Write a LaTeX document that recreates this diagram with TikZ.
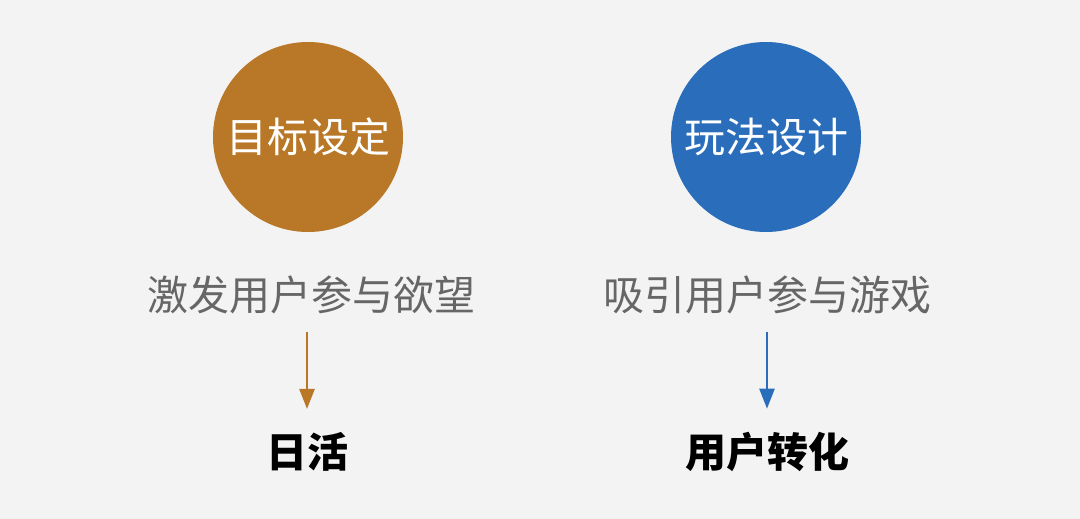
\documentclass[tikz,border=0pt]{standalone}
\usepackage{fontspec}
\setmainfont{Noto Sans CJK SC}
\usetikzlibrary{positioning,arrows.meta}
\definecolor{bgray}{HTML}{F3F3F3}
\definecolor{cbrown}{HTML}{B87828}
\definecolor{cblue}{HTML}{2A6EBB}
\definecolor{tgray}{HTML}{666666}
\tikzset{
  ring/.style={circle, minimum size=190pt, inner sep=0pt, text=white, font=\fontsize{41}{44}\selectfont},
  goal/.style={text=tgray, font=\fontsize{41}{44}\selectfont},
  result/.style={text=black, font=\fontsize{41}{44}\selectfont\bfseries},
  flow/.style={line width=2.5pt, -{Triangle[width=15pt,length=20pt]}},
}
\begin{document}
\begin{tikzpicture}[x=1pt,y=-1pt]
    % Fondo
    \fill[bgray] (0,0) rectangle (1080,519);
    \useasboundingbox (0,0) rectangle (1080,519);

    % Circulos
    \node[ring, fill=cbrown] (target) at (308,137) {目标设定};
    \node[ring, fill=cblue] (play) at (766,137) {玩法设计};

    % Textos
    \node[goal] (wish) at (311,295) {激发用户参与欲望};
    \node[goal] (join) at (767,295) {吸引用户参与游戏};
    \node[result] (daily) at (307,452) {日活};
    \node[result] (convert) at (767,452) {用户转化};

    % Flechas
    \coordinate (wishend) at (daily |- wish.south);
    \coordinate (joinend) at (convert |- join.south);
    \draw[cbrown, flow] (wishend) ++(0,14) -- ([yshift=20pt]daily.north);
    \draw[cblue, flow] (joinend) ++(0,14) -- ([yshift=20pt]convert.north);
\end{tikzpicture}
\end{document}
